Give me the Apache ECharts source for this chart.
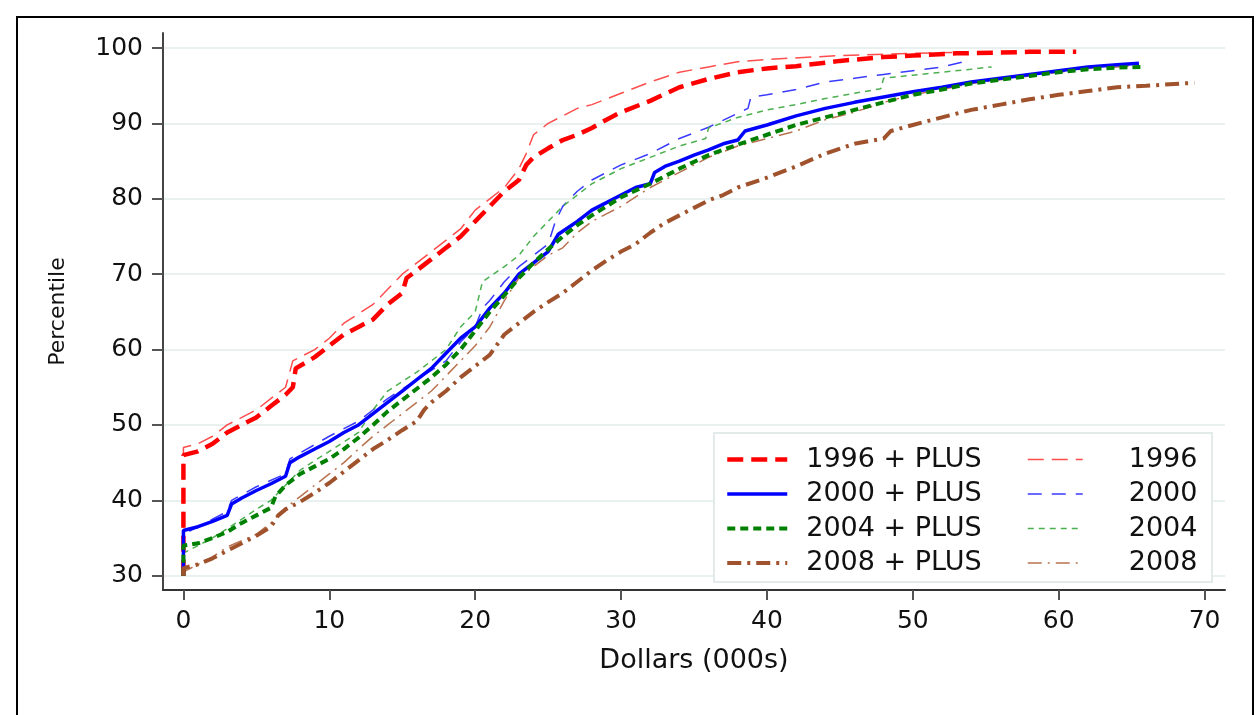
<!DOCTYPE html>
<html>
<head>
<meta charset="utf-8">
<script src="https://cdn.jsdelivr.net/npm/echarts@6/dist/echarts.min.js"></script>
<style>
html, body { margin: 0; padding: 0; background: #fff; }
#main { width: 1257px; height: 715px; }
</style>
</head>
<body>
<div id="main"></div>
<script>
// tick values
var xTicks = [0, 10, 20, 30, 40, 50, 60, 70];
var yTicks = [30, 40, 50, 60, 70, 80, 90, 100];

// [dollars (000s), percentile]
var plus1996 = [[0,30],[0,46],[1,46.5],[2,47.5],[3,49],[4,50],[5,51],[6,52.5],[7,54],[7.5,55],[7.7,57.5],[9,59],[10,60.5],[11,62],[12,63],[13,64],[14,66],[15,67.5],[15.3,69.5],[16,70.5],[17,72],[18,73.5],[19,75],[20,77],[21,79],[22,81],[23,82.5],[23.5,84.5],[24,85.5],[25,86.7],[26,87.8],[27,88.5],[28,89.4],[29,90.5],[30,91.5],[32,93],[34,94.8],[36,95.9],[38,96.8],[40,97.3],[42,97.6],[45,98.3],[48,98.8],[50,99],[53,99.3],[56,99.4],[58,99.5],[61.2,99.5]];
var only1996 = [[0,30],[0,47],[1,47.5],[2,48.5],[3,50],[5,52],[7,55],[7.5,58.5],[9,60],[10,61.5],[11,63.5],[13,66],[14,68],[15,70],[17,73],[19,76],[20,78.5],[22,81.5],[23,84],[23.5,86],[24,88.5],[25,90],[26,91],[27,92],[28,92.5],[30,94],[32,95.5],[34,96.8],[36,97.5],[38,98.2],[40,98.5],[45,99],[50,99.3],[52.7,99.4]];
var plus2000 = [[0,30],[0,36],[1,36.5],[2,37.2],[3,38],[3.3,39.5],[4,40.3],[5,41.3],[6,42.2],[7,43.2],[7.3,45],[8,45.8],[9,46.8],[10,47.8],[11,49],[12,50],[13,51.5],[14,53],[15,54.5],[16,56],[17,57.5],[18,59.5],[19,61.5],[20,63],[21,65.5],[22,67.5],[23,70],[24,71.5],[25,73],[25.7,75.3],[27,77],[28,78.5],[29,79.5],[30,80.5],[31,81.5],[32,82],[32.3,83.5],[33,84.3],[34,85],[35,85.8],[36,86.5],[37,87.3],[38,87.8],[38.5,89],[40,89.8],[42,91],[44,92],[46,92.8],[48,93.5],[50,94.2],[52,94.8],[54,95.5],[56,96],[58,96.5],[60,97],[62,97.5],[64,97.8],[65.5,98]];
var only2000 = [[0,30],[0,35.5],[3,38.5],[3.3,40],[5,41.8],[7,43.5],[7.3,45.5],[10,48.5],[12,50.5],[14,53.5],[16,56],[18,58.5],[19,61],[20,63],[20.5,65.5],[21,66.5],[22,69],[23,71],[24,72.5],[25,74],[25.5,77],[26,79],[27,81],[28,82.5],[30,84.5],[32,86],[34,88],[36,89.5],[38.7,92],[38.9,93.5],[40,93.8],[42,94.5],[44,95.5],[46,96],[48,96.5],[50,97],[52,97.5],[53.5,98.2]];
var plus2004 = [[0,30],[0,34],[1,34.3],[2,35],[3,35.8],[4,37],[5,38],[6,39],[6.3,40.5],[7,42],[8,43.5],[9,44.5],[10,45.5],[11,46.8],[12,48.3],[13,50],[14,51.8],[15,53.3],[16,54.8],[17,56.3],[18,58],[19,60],[20,62.5],[21,65],[22,67.2],[23,69.5],[24,71.5],[25,73.3],[26,75],[27,76.5],[28,77.8],[29,79],[30,80.2],[32,82],[34,84],[36,85.8],[38,87.2],[40,88.5],[42,89.8],[44,90.8],[46,91.8],[48,92.8],[50,93.8],[52,94.5],[54,95.3],[56,95.8],[58,96.3],[60,96.8],[62,97.2],[64,97.4],[65.8,97.5]];
var only2004 = [[0,30],[0,33],[2,35],[4,37.5],[5,38.8],[6,40],[7,42],[8,44],[10,46.5],[12,49],[13,52],[14,54.5],[16,57],[18,60],[19,63],[20,65],[20.5,69],[22,71],[23,72.5],[24,75],[25,77],[26,79],[28,82],[30,84],[32,85.5],[34,87],[35.8,88],[36,89.4],[38,90.8],[40,91.8],[42,92.5],[44,93.3],[46,94],[47.8,94.6],[48,96],[50,96.4],[52,96.8],[54,97.2],[55.4,97.5]];
var plus2008 = [[0,30],[0,31],[1,31.5],[2,32.3],[3,33.3],[4,34.3],[5,35.3],[6,36.5],[6.5,38],[7,38.8],[8,39.8],[9,41],[10,42.3],[11,43.8],[12,45.3],[13,46.8],[14,48],[15,49.3],[16,50.5],[16.5,52],[17,53],[18,54.5],[19,56.3],[20,57.8],[21,59.3],[22,62],[23,63.5],[24,65],[25,66.3],[26,67.5],[27,69],[28,70.5],[29,71.8],[30,73],[31,74],[32,75.5],[33,76.8],[34,77.8],[35,78.8],[36,79.8],[37,80.5],[38,81.5],[40,82.8],[42,84.3],[44,86],[46,87.3],[48,88],[48.5,89],[50,89.8],[52,90.8],[54,91.8],[56,92.5],[58,93.2],[60,93.8],[62,94.3],[64,94.8],[66,95],[69.3,95.4]];
var only2008 = [[0,30],[0,30.5],[1,31.5],[2,32.5],[3,33.8],[5,35.5],[6,37],[7,39],[8,40.5],[9,42],[10,43.5],[11,45],[12,46.8],[13,48.5],[14,50],[15,51.5],[16,53],[17,54.5],[18,56.5],[19,58.5],[20,60.5],[21,63],[22,66.5],[23,69.5],[24,71],[25,72.5],[26,73.5],[27,75.5],[28,77],[29,78],[30,79],[32,81.5],[34,83.5],[36,85.5],[38,87],[40,88],[42,89],[44,90.5],[46,91.5],[48,92.8],[50,93.8],[52,94.5],[54,95.3],[56,95.8],[58,96.3],[60,96.8],[62,97.3],[64,97.5],[65,97.6]];

var chart = echarts.init(document.getElementById('main'));
var font = 'DejaVu Sans, Liberation Sans, sans-serif';

function line(name, data, color, width, dash, z) {
    return {
        name: name,
        type: 'line',
        data: data,
        symbol: 'none',
        z: z,
        animation: false,
        lineStyle: { color: color, width: width, type: dash },
        itemStyle: { color: color }
    };
}

var legendText = { fontFamily: font, fontSize: 27, color: '#111', lineHeight: 24 };

var option = {
    backgroundColor: '#fff',
    animation: false,
    graphic: [{
        type: 'rect',
        shape: { x: 17, y: 17, width: 1236, height: 720 },
        style: { fill: 'none', stroke: '#000', lineWidth: 2 },
        silent: true
    }, {
        type: 'rect',
        shape: { x: 714, y: 433, width: 498, height: 149 },
        style: { fill: '#fff', stroke: '#e3eaea', lineWidth: 2 },
        z: 20,
        silent: true
    }],
    grid: { left: 163, right: 32, top: 33, bottom: 125 },
    legend: [{
        orient: 'vertical',
        left: 725,
        top: 446,
        itemWidth: 60,
        itemHeight: 20,
        itemGap: 7.5,
        padding: 0,
        z: 30,
        itemStyle: { opacity: 0 },
        lineStyle: { width: 'inherit' },
        textStyle: Object.assign({ padding: [0, 0, 0, 14] }, legendText),
        data: ['1996 + PLUS', '2000 + PLUS', '2004 + PLUS', '2008 + PLUS']
    }, {
        orient: 'vertical',
        left: 1027,
        top: 446,
        itemWidth: 55,
        itemHeight: 20,
        itemGap: 7.5,
        padding: 0,
        z: 30,
        itemStyle: { opacity: 0 },
        lineStyle: { width: 'inherit' },
        textStyle: Object.assign({ padding: [0, 0, 0, 41] }, legendText),
        data: ['1996', '2000', '2004', '2008']
    }],
    xAxis: {
        type: 'value',
        min: -1.4,
        max: 71.4,
        name: 'Dollars (000s)',
        nameLocation: 'middle',
        nameGap: 57,
        nameTextStyle: { fontFamily: font, fontSize: 27, color: '#111' },
        axisLine: { onZero: false, lineStyle: { color: '#333', width: 2 } },
        axisTick: { show: true, length: 10, customValues: xTicks, lineStyle: { color: '#555', width: 2 } },
        axisLabel: { customValues: xTicks, fontFamily: font, fontSize: 25, color: '#111', margin: 19 },
        splitLine: { show: false }
    },
    yAxis: {
        type: 'value',
        min: 28.1,
        max: 102,
        name: 'Percentile',
        nameLocation: 'middle',
        nameGap: 94,
        nameRotate: 90,
        nameTextStyle: { fontFamily: font, fontSize: 22, color: '#111' },
        axisLine: { show: true, onZero: false, lineStyle: { color: '#444', width: 2 } },
        axisTick: { show: true, length: 11, customValues: yTicks, lineStyle: { color: '#555', width: 2 } },
        axisLabel: { customValues: yTicks, fontFamily: font, fontSize: 25, color: '#111', margin: 20 },
        splitLine: { show: true, lineStyle: { color: '#e8f0f0', width: 2 } }
    },
    series: [
        line('1996 + PLUS', plus1996, '#ff0000', 4.5, [16, 8], 10),
        line('2000 + PLUS', plus2000, '#0000ff', 3.5, 'solid', 10),
        line('2004 + PLUS', plus2004, '#008000', 4, [8, 5], 10),
        line('2008 + PLUS', plus2008, '#a0522d', 4, [14, 6, 3, 6], 10),
        line('1996', only1996, '#ff4d4d', 1.5, [16, 8], 5),
        line('2000', only2000, '#3a3aff', 1.5, [14, 10], 5),
        line('2004', only2004, '#4caf50', 1.5, [6, 5], 5),
        line('2008', only2008, '#b87350', 1.5, [14, 6, 2, 6], 5)
    ]
};

chart.setOption(option);
</script>
</body>
</html>
